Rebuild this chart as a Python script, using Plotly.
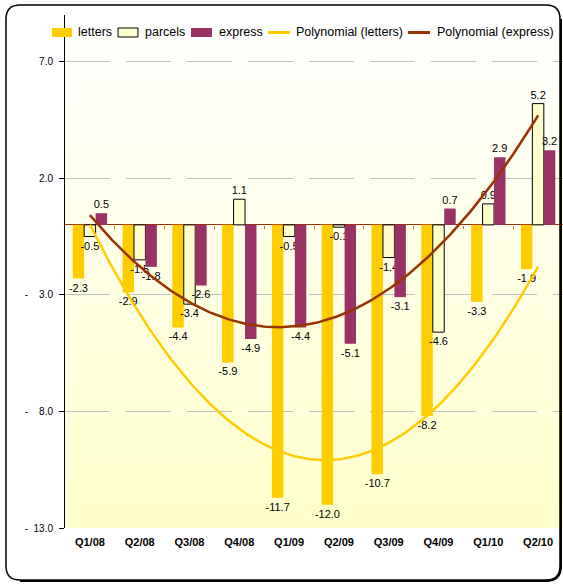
import numpy as np
import plotly.graph_objects as go

# Quarterly change (%) by product line
quarters = ["Q1/08", "Q2/08", "Q3/08", "Q4/08", "Q1/09",
            "Q2/09", "Q3/09", "Q4/09", "Q1/10", "Q2/10"]
letters = [-2.3, -2.9, -4.4, -5.9, -11.7, -12.0, -10.7, -8.2, -3.3, -1.9]
parcels = [-0.5, -1.5, -3.4, 1.1, -0.5, -0.1, -1.4, -4.6, 0.9, 5.2]
express = [0.5, -1.8, -2.6, -4.9, -4.4, -5.1, -3.1, 0.7, 2.9, 3.2]

y_tickvals = [-13, -8, -3, 2, 7]
y_ticktext = ["-\u00a0\u00a013.0", "-\u00a0\u00a0\u00a0\u00a08.0",
              "-\u00a0\u00a0\u00a0\u00a03.0", "2.0", "7.0"]

legend_labels = ["letters", "parcels", "express",
                 "Polynomial (letters)", "Polynomial (express)"]

C_LETTERS = "#FFCC00"
C_PARCELS = "#FFFFCC"
C_EXPRESS = "#993366"
C_TREND_EXP = "#993300"
FONT = "Liberation Sans, Arial, sans-serif"

W, H = 563, 584
ML, MR, MT, MB = 65, 0, 15, 56
PW, PH = W - ML - MR, H - MT - MB
Y_MIN, Y_MAX = -13, 9


def px(x):
    return (x - ML) / PW


def py(y):
    return (H - MB - y) / PH


# second-order polynomial trendlines
n = len(quarters)
idx = np.arange(n)
xs = np.linspace(0, n - 1, 200)
trend_letters = np.polyval(np.polyfit(idx, letters, 2), xs)
trend_express = np.polyval(np.polyfit(idx, express, 2), xs)

fig = go.Figure()

bar_common = dict(textposition="outside", texttemplate="%{y:.1f}",
                  textfont=dict(size=11, color="#000000", family=FONT),
                  cliponaxis=False, constraintext="none", showlegend=False)

fig.add_trace(go.Bar(x=quarters, y=letters, name="letters",
                     marker=dict(color=C_LETTERS, line=dict(width=0)), **bar_common))
fig.add_trace(go.Bar(x=quarters, y=parcels, name="parcels",
                     marker=dict(color=C_PARCELS, line=dict(width=1, color="#000000")),
                     **bar_common))
fig.add_trace(go.Bar(x=quarters, y=express, name="express",
                     marker=dict(color=C_EXPRESS, line=dict(width=0)), **bar_common))

fig.add_trace(go.Scatter(x=xs, y=trend_letters, mode="lines", xaxis="x2",
                         line=dict(color=C_LETTERS, width=2.5),
                         name="Polynomial (letters)", showlegend=False))
fig.add_trace(go.Scatter(x=xs, y=trend_express, mode="lines", xaxis="x2",
                         line=dict(color=C_TREND_EXP, width=2.5),
                         name="Polynomial (express)", showlegend=False))

shapes = []

# plot-area background fading from white to pale yellow
steps = 64
for i in range(steps):
    t = (i + 0.5) / steps
    b = int(round(204 + (255 - 204) * t))
    shapes.append(dict(type="rect", xref="paper", yref="paper",
                       x0=0, x1=1, y0=i / steps, y1=min(1, (i + 1) / steps + 0.003),
                       fillcolor=f"rgb(255,255,{b})", line=dict(width=0), layer="below"))

# rounded outer frame
L, R, T, B, r = 6, 560, 5, 580, 14


def P(x, y):
    return f"{px(x):.5f},{py(y):.5f}"


frame = (f"M {P(L + r, T)} L {P(R - r, T)} Q {P(R, T)} {P(R, T + r)} "
         f"L {P(R, B - r)} Q {P(R, B)} {P(R - r, B)} L {P(L + r, B)} "
         f"Q {P(L, B)} {P(L, B - r)} L {P(L, T + r)} Q {P(L, T)} {P(L + r, T)} Z")
shapes.append(dict(type="path", xref="paper", yref="paper", path=frame,
                   line=dict(color="#000000", width=1.5), layer="above"))
shadow = (f"M {P(R + 1, T + r)} L {P(R + 1, B - r)} Q {P(R + 1, B + 1)} {P(R - r, B + 1)} "
          f"L {P(L + r, B + 1)}")
shapes.append(dict(type="path", xref="paper", yref="paper", path=shadow,
                   line=dict(color="#000000", width=2), layer="above"))

# legend
annotations = []
ly = 32.5
sw = [(52, 72, "rect", C_LETTERS, None), (118, 138, "rect", C_PARCELS, "#000000"),
      (191, 212, "rect", C_EXPRESS, None), (268, 290, "line", C_LETTERS, None),
      (408, 430, "line", C_TREND_EXP, None)]
text_x = [76, 143, 216.5, 294, 434.5]
for (x0, x1, kind, col, edge), tx, lab in zip(sw, text_x, legend_labels):
    if kind == "rect":
        shapes.append(dict(type="rect", xref="paper", yref="paper",
                           x0=px(x0), x1=px(x1), y0=py(ly + 4.5), y1=py(ly - 4.5),
                           fillcolor=col,
                           line=dict(color=edge or col, width=1 if edge else 0),
                           layer="above"))
    else:
        shapes.append(dict(type="line", xref="paper", yref="paper",
                           x0=px(x0), x1=px(x1), y0=py(ly), y1=py(ly),
                           line=dict(color=col, width=3), layer="above"))
    annotations.append(dict(x=px(tx), y=py(ly), xref="paper", yref="paper",
                            text=lab, showarrow=False, xanchor="left", yanchor="middle",
                            font=dict(size=12.5, color="#000000", family=FONT)))

fig.update_layout(
    width=W, height=H, autosize=False,
    margin=dict(l=ML, r=MR, t=MT, b=MB, pad=0),
    paper_bgcolor="#FFFFFF", plot_bgcolor="rgba(0,0,0,0)",
    barmode="group", bargap=0.31, bargroupgap=0,
    font=dict(family=FONT, color="#000000"),
    showlegend=False,
    shapes=shapes, annotations=annotations,
    xaxis=dict(type="category", showgrid=False, showline=False, zeroline=False,
               ticks="", tickfont=dict(size=11, weight="bold", family=FONT),
               ticklabelstandoff=6),
    xaxis2=dict(overlaying="x", anchor="free", position=(0 - Y_MIN) / (Y_MAX - Y_MIN),
                range=[-0.5, n - 0.5], showgrid=False, showline=False, zeroline=False,
                tickvals=[i + 0.5 for i in range(n)], ticks="outside", ticklen=3,
                tickcolor="#C86432", tickwidth=1, showticklabels=False),
    yaxis=dict(range=[Y_MIN, Y_MAX], tickvals=y_tickvals, ticktext=y_ticktext,
               ticks="outside", ticklen=5, tickcolor="#000000", tickwidth=1,
               showline=True, linecolor="#000000", linewidth=1,
               showgrid=True, gridcolor="#C0C0C0", gridwidth=1, griddash="45px,16px",
               zeroline=True, zerolinecolor=C_TREND_EXP, zerolinewidth=1,
               tickfont=dict(size=10, family=FONT), ticklabelstandoff=4),
)

fig.write_html("out.html")
